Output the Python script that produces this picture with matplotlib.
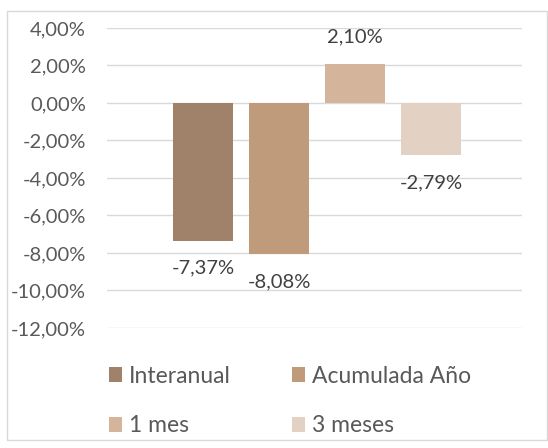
import matplotlib
matplotlib.use("Agg")
import matplotlib.pyplot as plt
from matplotlib.patches import Rectangle
import numpy as np

plt.rcParams['font.family'] = ['Lato', 'DejaVu Sans']

series = ["Interanual", "Acumulada Año", "1 mes", "3 meses"]
values = [-7.37, -8.08, 2.10, -2.79]
colors = ["#A0826A", "#BF9B7B", "#D4B59C", "#E3D1C4"]
yticks = [4, 2, 0, -2, -4, -6, -8, -10, -12]

def pct(v):
    return ("%.2f%%" % v).replace(".", ",")

fig = plt.figure(figsize=(5.48, 4.48), dpi=100)
ax = fig.add_axes([0.195, 0.268, 0.758, 0.6695])

# chart border
fig.patches.append(Rectangle((0.013, 0.018), 0.985, 0.957, transform=fig.transFigure,
                             fill=False, edgecolor="#D9D9D9", linewidth=1.0))

width = 0.145
step = 0.183
offsets = (np.arange(len(series)) - 1.5) * step + 0.006
bars = []
for i in range(len(series)):
    b = ax.bar(offsets[i], values[i], width=width, color=colors[i], label=series[i], zorder=3)
    bars.append(b)
    sign = 1 if values[i] >= 0 else -1
    ax.text(offsets[i], values[i] + sign * 1.45, pct(values[i]), ha="center", va="center",
            fontsize=14.5, color="#404040")

ax.set_xlim(-0.5, 0.5)
ax.set_ylim(-12, 4)
ax.set_yticks(yticks)
ax.set_yticklabels([pct(t) for t in yticks], fontsize=14.5, color="#595959")
ax.set_xticks([])
ax.yaxis.grid(True, color="#D9D9D9", linewidth=1.0, zorder=0)
ax.tick_params(axis="y", length=0, pad=15)
for s in ax.spines.values():
    s.set_visible(False)

order = [0, 2, 1, 3]
fig.legend([bars[k] for k in order], [series[k] for k in order],
           loc="upper left", bbox_to_anchor=(0.161, 0.23), ncol=2, frameon=False,
           fontsize=16.5, handlelength=0.59, handleheight=0.59, handletextpad=0.3,
           columnspacing=2.65, labelspacing=1.26, labelcolor="#595959")

fig.savefig("out.png", dpi=100)
